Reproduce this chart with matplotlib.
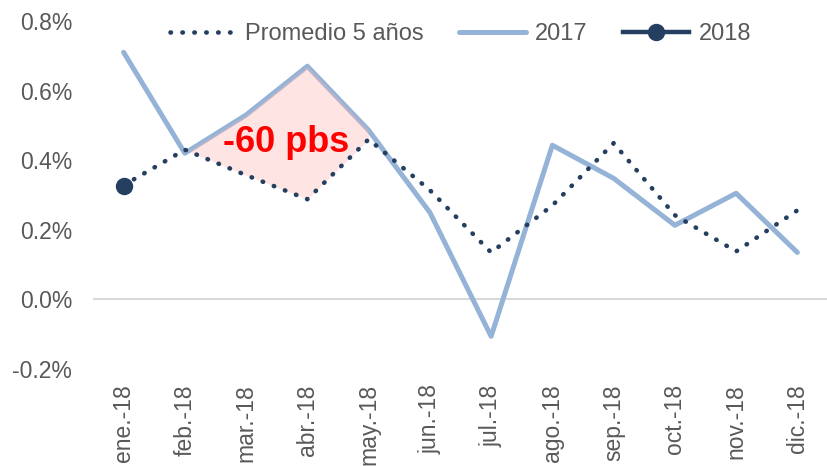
import matplotlib.pyplot as plt
from matplotlib.ticker import FuncFormatter

meses = ['ene.-18', 'feb.-18', 'mar.-18', 'abr.-18', 'may.-18', 'jun.-18',
         'jul.-18', 'ago.-18', 'sep.-18', 'oct.-18', 'nov.-18', 'dic.-18']
promedio = [0.328, 0.43, 0.357, 0.288, 0.46, 0.314, 0.135, 0.27, 0.449, 0.242, 0.138, 0.256]
y2017 = [0.71, 0.42, 0.53, 0.67, 0.486, 0.25, -0.106, 0.443, 0.348, 0.213, 0.305, 0.135]
y2018 = [0.325]

plt.rcParams['font.family'] = ['Liberation Sans', 'DejaVu Sans']

fig = plt.figure(figsize=(8.28, 4.66), dpi=100)
ax = fig.add_axes([0.1123, 0.208, 0.8877, 0.747])

x = list(range(len(meses)))
navy = '#243F60'
light = '#95B3D7'
gris = '#595959'

ax.axhline(0, color='#D9D9D9', lw=1.5, zorder=1)

ax.plot(x, y2017, color=light, lw=3.6, solid_capstyle='round', label='2017', zorder=3)
ax.plot(x, promedio, color=navy, lw=3.3, linestyle=(0, (0.1, 2.5)), dash_capstyle='round',
        label='Promedio 5 años', zorder=4)
ax.plot(x[:len(y2018)], y2018, color=navy, lw=3.2, marker='o', ms=11.5, label='2018', zorder=5)

# area between 2017 and the 5-year average, feb to may
ax.fill_between(x[1:5], promedio[1:5], y2017[1:5], color='#FFB3B3', alpha=0.35, lw=0, zorder=3.5)
ax.text(2.65, 0.45, '-60 pbs', color='#FF0000', fontsize=26, fontweight='bold',
        ha='center', va='center', zorder=6)

ax.set_xlim(-0.5, 11.5)
ax.set_ylim(-0.2, 0.8)
ax.set_yticks([-0.2, 0.0, 0.2, 0.4, 0.6, 0.8])
ax.yaxis.set_major_formatter(FuncFormatter(lambda v, p: f'{v:.1f}%'))
ax.set_xticks(x)
ax.set_xticklabels(meses, rotation=90, va='top', ha='center')
ax.tick_params(axis='both', length=0, labelsize=16.5, colors=gris)
ax.tick_params(axis='y', pad=15)
ax.tick_params(axis='x', pad=11)
for s in ax.spines.values():
    s.set_visible(False)

handles, labels = ax.get_legend_handles_labels()
order = [1, 0, 2]
leg = ax.legend([handles[i] for i in order], [labels[i] for i in order],
                loc='center', bbox_to_anchor=(0.5, 0.963), ncol=3, frameon=False,
                fontsize=17, handlelength=2.8, columnspacing=1.5, handletextpad=0.4,
                borderpad=0, borderaxespad=0)
for t in leg.get_texts():
    t.set_color(gris)

fig.savefig('out.png', dpi=100)
